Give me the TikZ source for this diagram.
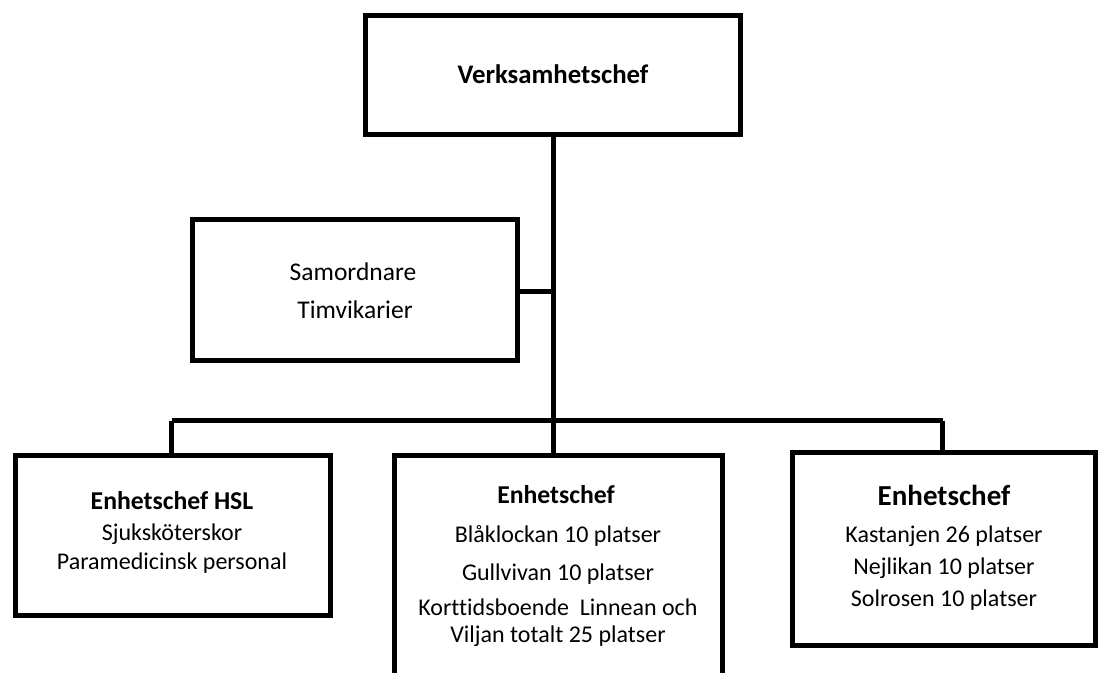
\documentclass[tikz,border=0pt]{standalone}
\usepackage{fontspec}
\setmainfont[Ligatures=NoCommon]{Carlito}
\begin{document}
\begin{tikzpicture}[x=1pt,y=-1pt,
  box/.style={draw=black, line width=5pt, inner sep=0pt, outer sep=0pt, fill=white},
  conn/.style={draw=black, line width=5pt},
  txt/.style={anchor=base, inner sep=0pt, font=\fontsize{24}{28}\selectfont},
  samtxt/.style={anchor=base, inner sep=0pt, font=\fontsize{25.5}{30}\selectfont},
  head/.style={anchor=base, inner sep=0pt, font=\fontsize{25.7}{30}\selectfont\bfseries},
  tophead/.style={anchor=base, inner sep=0pt, font=\fontsize{26.8}{31}\selectfont\bfseries},
  bighead/.style={anchor=base, inner sep=0pt, font=\fontsize{29}{34}\selectfont\bfseries}]
\useasboundingbox (0,0) rectangle (1099,672);
\clip (0,0) rectangle (1099,672);
\fill[white] (0,0) rectangle (1099,672);

% connector points
\coordinate (busL) at (171.5,420.5);
\coordinate (busM) at (553,420.5);
\coordinate (busR) at (942.5,420.5);
\coordinate (jS) at (553,291.5);

% boxes
\node[box, minimum width=375pt, minimum height=119pt] (top) at (553,75) {};
\node[box, minimum width=325pt, minimum height=141pt] (sam) at (355,290) {};
\node[box, minimum width=315pt, minimum height=160pt] (hsl) at (173,535.5) {};
\node[box, minimum width=328pt, minimum height=244.5pt] (mid) at (558.5,577.75) {};
\node[box, minimum width=303pt, minimum height=193.5pt] (rgt) at (944,548.75) {};

% connectors
\draw[conn] (top.south) -- (busM);
\draw[conn] (sam.east |- jS) -- (jS);
\draw[conn] (busL) -- (busR);
\draw[conn] (busL) -- (busL |- hsl.north);
\draw[conn] (busM) -- (busM |- mid.north);
\draw[conn] (busR) -- (busR |- rgt.north);

% texts
\node[tophead] (t0) at (553,83) {Verksamhetschef};

\node[samtxt] (s1) at (353,280) {Samordnare};
\node[samtxt] (s2) at (355,318) {Timvikarier};

\node[head] (h1) at (172,509) {Enhetschef HSL};
\node[txt] (h2) at (172,540) {Sjuksköterskor};
\node[txt] (h3) at (172,569) {Paramedicinsk personal};

\node[head] (m1) at (556,503) {Enhetschef};
\node[txt] (m2) at (558,542) {Blåklockan 10 platser};
\node[txt] (m3) at (558,580) {Gullvivan 10 platser};
\node[txt] (m4) at (558,615) {Korttidsboende\hspace{0.45em}Linnean och};
\node[txt] (m5) at (558,642) {Viljan totalt 25 platser};

\node[bighead] (r1) at (944,505) {Enhetschef};
\node[txt] (r2) at (944,542) {Kastanjen 26 platser};
\node[txt] (r3) at (944,574) {Nejlikan 10 platser};
\node[txt] (r4) at (944,606) {Solrosen 10 platser};
\end{tikzpicture}
\end{document}
